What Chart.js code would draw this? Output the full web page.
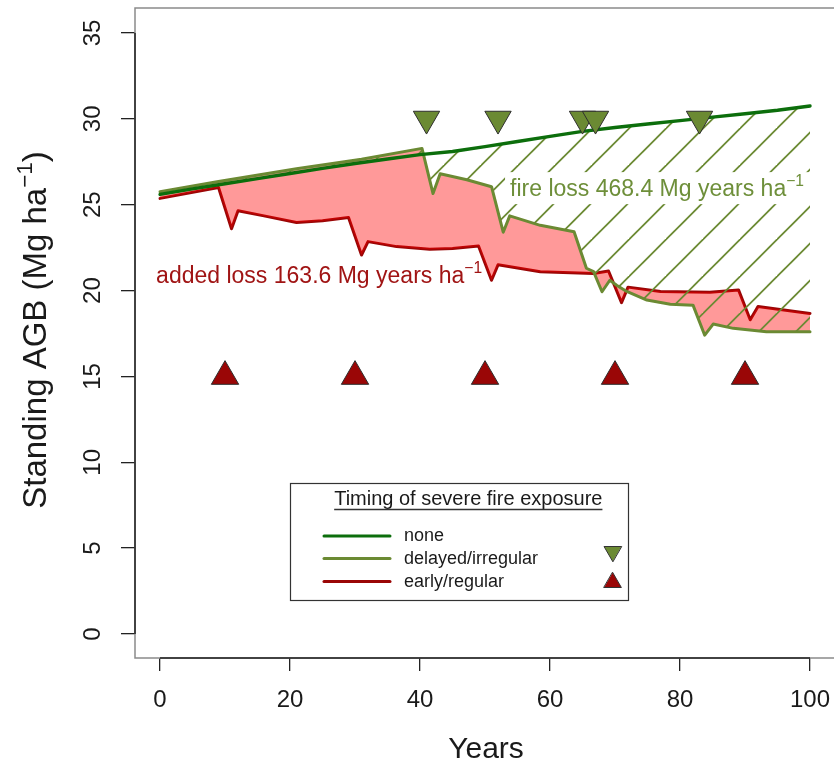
<!DOCTYPE html>
<html>
<head>
<meta charset="utf-8">
<style>
  html, body { margin: 0; padding: 0; background: #fff; overflow: hidden; }
  #wrap { position: relative; width: 834px; height: 765px; }
</style>
<script src="https://cdn.jsdelivr.net/npm/chart.js@4/dist/chart.umd.min.js"></script>
</head>
<body>
<div id="wrap"><canvas id="c" width="834" height="765"></canvas></div>
<script>
// Standing above-ground biomass (Mg/ha) over 100 years for three fire-timing scenarios
const noneYears = [0, 5, 10, 15, 20, 25, 30, 35, 40, 45, 50, 55, 60, 65, 70, 75, 80, 85, 90, 95, 100];
const noneAGB   = [25.6, 25.92, 26.22, 26.52, 26.82, 27.12, 27.4, 27.66, 27.92, 28.1, 28.38, 28.68, 28.98, 29.27, 29.5, 29.7, 29.9, 30.1, 30.3, 30.5, 30.75];

const delayedYears = [0, 9, 21, 31, 40.3, 42, 43.1, 47.2, 51, 52.8, 53.8, 58.5, 63.7, 65.6, 66.7, 68, 69.2, 70.3, 71.8, 74.9, 78.5, 82, 83.8, 85.1, 88.2, 93.3, 100];
const delayedAGB   = [25.75, 26.35, 27.1, 27.65, 28.28, 25.65, 26.8, 26.45, 26.05, 23.4, 24.35, 23.8, 23.43, 21.3, 21.1, 19.93, 20.6, 20.3, 19.95, 19.45, 19.2, 19.15, 17.4, 18.05, 17.8, 17.6, 17.6];

const earlyYears = [0, 9, 11, 12, 16, 21, 25, 29, 31, 32, 36.4, 41.5, 45, 49, 51, 52, 58.5, 66.7, 69, 71, 72, 77, 84.6, 89, 90.8, 92, 95.4, 100];
const earlyAGB   = [25.37, 26.0, 23.6, 24.65, 24.35, 23.96, 24.07, 24.26, 22.07, 22.85, 22.56, 22.4, 22.45, 22.6, 20.6, 21.5, 21.1, 21.0, 21.14, 19.3, 20.2, 19.94, 19.9, 20.04, 18.3, 19.07, 18.9, 18.67];

// Years of severe fire in each fire scenario, and the level the markers sit at
const delayedFireYears = [41, 52, 65, 67, 83];
const earlyFireYears   = [10, 30, 50, 70, 90];
const delayedMarkLevel = 30;
const earlyMarkLevel   = 15;

// Cumulative losses (Mg years / ha)
const addedLoss = 163.6;
const fireLoss  = 468.4;

// Axis ticks
const xTicks = [0, 20, 40, 60, 80, 100];
const yTicks = [0, 5, 10, 15, 20, 25, 30, 35];

const seriesNames = ['none', 'delayed/irregular', 'early/regular'];

const GREEN = '#0c6e0c';
const OLIVE = '#6b8a33';
const DARKRED = '#9a0606';
const RED_FILL = 'rgba(255,0,0,0.4)';
const FONT = '"Liberation Sans", Arial, Helvetica, sans-serif';

const pts = (xs, ys) => xs.map((x, i) => ({ x, y: ys[i] }));
const level = (xs, v) => xs.map(x => ({ x, y: v }));

// Diagonal hatching for the fire-loss band
function makeHatch() {
  const p = 37, c = document.createElement('canvas');
  c.width = p; c.height = p;
  const g = c.getContext('2d');
  g.strokeStyle = OLIVE;
  g.lineWidth = 1.8;
  for (const k of [17.6 - p, 17.6, 17.6 + p]) {
    g.beginPath();
    g.moveTo(k + 10, -10);
    g.lineTo(-10, k + 10);
    g.stroke();
  }
  return g.createPattern(c, 'repeat');
}

// Text with an optional superscript part, e.g. "ha" + "−1"
function richText(ctx, segs, x, y, size, align) {
  const supSize = size * 0.68, raise = size * 0.42;
  let w = 0;
  const widths = segs.map(s => {
    ctx.font = (s.sup ? supSize : size) + 'px ' + FONT;
    const m = ctx.measureText(s.t).width;
    w += m;
    return m;
  });
  let cx = align === 'center' ? x - w / 2 : (align === 'right' ? x - w : x);
  ctx.textAlign = 'left';
  ctx.textBaseline = 'alphabetic';
  segs.forEach((s, i) => {
    ctx.font = (s.sup ? supSize : size) + 'px ' + FONT;
    ctx.fillText(s.t, cx, s.sup ? y - raise : y);
    cx += widths[i];
  });
  return w;
}

const frame = {
  id: 'frame',
  afterDatasetsDraw(chart) {
    const { ctx } = chart;
    const xs = chart.scales.x, ys = chart.scales.y;
    ctx.save();
    // fire-loss label on a white panel
    const fx = xs.getPixelForValue(53.85), fy = ys.getPixelForValue(25.5);
    ctx.fillStyle = '#fff';
    ctx.fillRect(fx - 5, fy - 24, 308, 32);
    ctx.fillStyle = '#6e8f3a';
    richText(ctx, [{ t: 'fire loss ' + fireLoss.toFixed(1) + ' Mg years ha' }, { t: '\u22121', sup: true }], fx, fy, 23, 'left');
    // added-loss label
    const ax = xs.getPixelForValue(-0.6), ay = ys.getPixelForValue(20.45);
    ctx.fillStyle = '#a01414';
    richText(ctx, [{ t: 'added loss ' + addedLoss.toFixed(1) + ' Mg years ha' }, { t: '\u22121', sup: true }], ax, ay, 23, 'left');
    ctx.restore();
  },
  afterDraw(chart) {
    const { ctx, chartArea: a } = chart;
    const xs = chart.scales.x, ys = chart.scales.y;
    ctx.save();
    // plot box
    ctx.strokeStyle = '#8a8a8a';
    ctx.lineWidth = 1.5;
    ctx.strokeRect(a.left, a.top, a.right + 3 - a.left, a.bottom - a.top);
    // axis lines spanning the ticks
    ctx.strokeStyle = '#222';
    ctx.lineWidth = 1.5;
    ctx.beginPath();
    ctx.moveTo(xs.getPixelForValue(xTicks[0]), a.bottom);
    ctx.lineTo(xs.getPixelForValue(xTicks[xTicks.length - 1]), a.bottom);
    ctx.moveTo(a.left, ys.getPixelForValue(yTicks[0]));
    ctx.lineTo(a.left, ys.getPixelForValue(yTicks[yTicks.length - 1]));
    ctx.stroke();

    // tick labels
    ctx.fillStyle = '#1a1a1a';
    ctx.font = '24px ' + FONT;
    ctx.textAlign = 'center';
    ctx.textBaseline = 'alphabetic';
    xTicks.forEach(v => ctx.fillText(String(v), xs.getPixelForValue(v), 706.5));
    yTicks.forEach(v => {
      ctx.save();
      ctx.translate(100, ys.getPixelForValue(v));
      ctx.rotate(-Math.PI / 2);
      ctx.fillText(String(v), 0, 0);
      ctx.restore();
    });

    // axis titles
    ctx.font = '30px ' + FONT;
    ctx.fillText('Years', (a.left + a.right + 3) / 2, 757.5);
    ctx.save();
    ctx.translate(46, (a.top + a.bottom) / 2 - 3);
    ctx.rotate(-Math.PI / 2);
    richText(ctx, [{ t: 'Standing AGB (Mg ha' }, { t: '\u22121', sup: true }, { t: ')' }], 0, 0, 33, 'center');
    ctx.restore();

    // legend
    const L = { x: 290, y: 483, w: 338, h: 117 };
    ctx.fillStyle = '#fff';
    ctx.fillRect(L.x, L.y, L.w, L.h);
    ctx.strokeStyle = '#333';
    ctx.lineWidth = 1.2;
    ctx.strokeRect(L.x + 0.5, L.y + 0.5, L.w, L.h);
    ctx.fillStyle = '#1a1a1a';
    ctx.font = '20px ' + FONT;
    ctx.textAlign = 'center';
    const title = 'Timing of severe fire exposure';
    ctx.fillText(title, 468.3, 504.5);
    const tw = ctx.measureText(title).width;
    ctx.beginPath();
    ctx.lineWidth = 1.3;
    ctx.moveTo(468.3 - tw / 2, 509.5);
    ctx.lineTo(468.3 + tw / 2, 509.5);
    ctx.stroke();

    const rows = [536, 558.5, 581.5];
    const cols = [GREEN, OLIVE, DARKRED];
    ctx.font = '18px ' + FONT;
    ctx.textAlign = 'left';
    rows.forEach((ry, i) => {
      ctx.strokeStyle = cols[i];
      ctx.lineWidth = 3;
      ctx.lineCap = 'round';
      ctx.beginPath();
      ctx.moveTo(324, ry);
      ctx.lineTo(390, ry);
      ctx.stroke();
      ctx.fillStyle = '#1a1a1a';
      ctx.fillText(seriesNames[i], 404, ry + 5);
    });
    ctx.lineWidth = 1;
    ctx.strokeStyle = '#333';
    ctx.fillStyle = OLIVE;
    Chart.helpers.drawPoint(ctx, { pointStyle: 'triangle', rotation: 180, radius: 10, borderWidth: 1 }, 612.7, 551.5);
    ctx.fillStyle = DARKRED;
    Chart.helpers.drawPoint(ctx, { pointStyle: 'triangle', rotation: 0, radius: 10, borderWidth: 1 }, 612.7, 582.5);
    ctx.restore();
  }
};

const lineStyle = (color, width) => ({
  borderColor: color,
  borderWidth: width,
  pointRadius: 0,
  pointHoverRadius: 0,
  tension: 0,
  borderJoinStyle: 'round',
  borderCapStyle: 'round'
});

// Scale sizes are fixed so the plot box sits where the margins put it
const zeroPad = s => { s.paddingLeft = 0; s.paddingRight = 0; s.paddingTop = 0; s.paddingBottom = 0; };

new Chart(document.getElementById('c'), {
  type: 'line',
  data: {
    datasets: [
      {
        label: 'delayed fires',
        data: level(delayedFireYears, delayedMarkLevel),
        showLine: false,
        pointStyle: 'triangle',
        pointRotation: 180,
        pointRadius: 15.2,
        pointBackgroundColor: OLIVE,
        pointBorderColor: '#2e2e2e',
        pointBorderWidth: 1,
        fill: false
      },
      {
        label: 'early fires',
        data: level(earlyFireYears, earlyMarkLevel),
        showLine: false,
        pointStyle: 'triangle',
        pointRotation: 0,
        pointRadius: 15.8,
        pointBackgroundColor: DARKRED,
        pointBorderColor: '#2e2e2e',
        pointBorderWidth: 1,
        fill: false
      },
      Object.assign({ label: seriesNames[0], data: pts(noneYears, noneAGB), fill: 3, backgroundColor: makeHatch() }, lineStyle(GREEN, 3.4)),
      Object.assign({ label: seriesNames[1], data: pts(delayedYears, delayedAGB), fill: 4, backgroundColor: RED_FILL }, lineStyle(OLIVE, 3)),
      Object.assign({ label: seriesNames[2], data: pts(earlyYears, earlyAGB), fill: false }, lineStyle(DARKRED, 3))
    ]
  },
  options: {
    responsive: false,
    animation: false,
    devicePixelRatio: 1,
    events: [],
    layout: { autoPadding: false, padding: { top: 8, right: 0, left: 0, bottom: 0 } },
    plugins: { legend: { display: false }, tooltip: { enabled: false } },
    scales: {
      x: {
        type: 'linear',
        min: -3.85,
        max: 103.69,
        afterBuildTicks: s => { s.ticks = xTicks.map(v => ({ value: v })); },
        afterFit: s => { s.height = 107; zeroPad(s); },
        ticks: { display: false, padding: 0 },
        border: { display: false },
        grid: { drawOnChartArea: false, drawTicks: true, tickLength: 13, color: '#222', lineWidth: 1.3 }
      },
      y: {
        type: 'linear',
        min: -1.398,
        max: 36.456,
        afterBuildTicks: s => { s.ticks = yTicks.map(v => ({ value: v })); },
        afterFit: s => { s.width = 135; zeroPad(s); },
        ticks: { display: false, padding: 0 },
        border: { display: false },
        grid: { drawOnChartArea: false, drawTicks: true, tickLength: 14, color: '#222', lineWidth: 1.3 }
      }
    }
  },
  plugins: [frame]
});
</script>
</body>
</html>
